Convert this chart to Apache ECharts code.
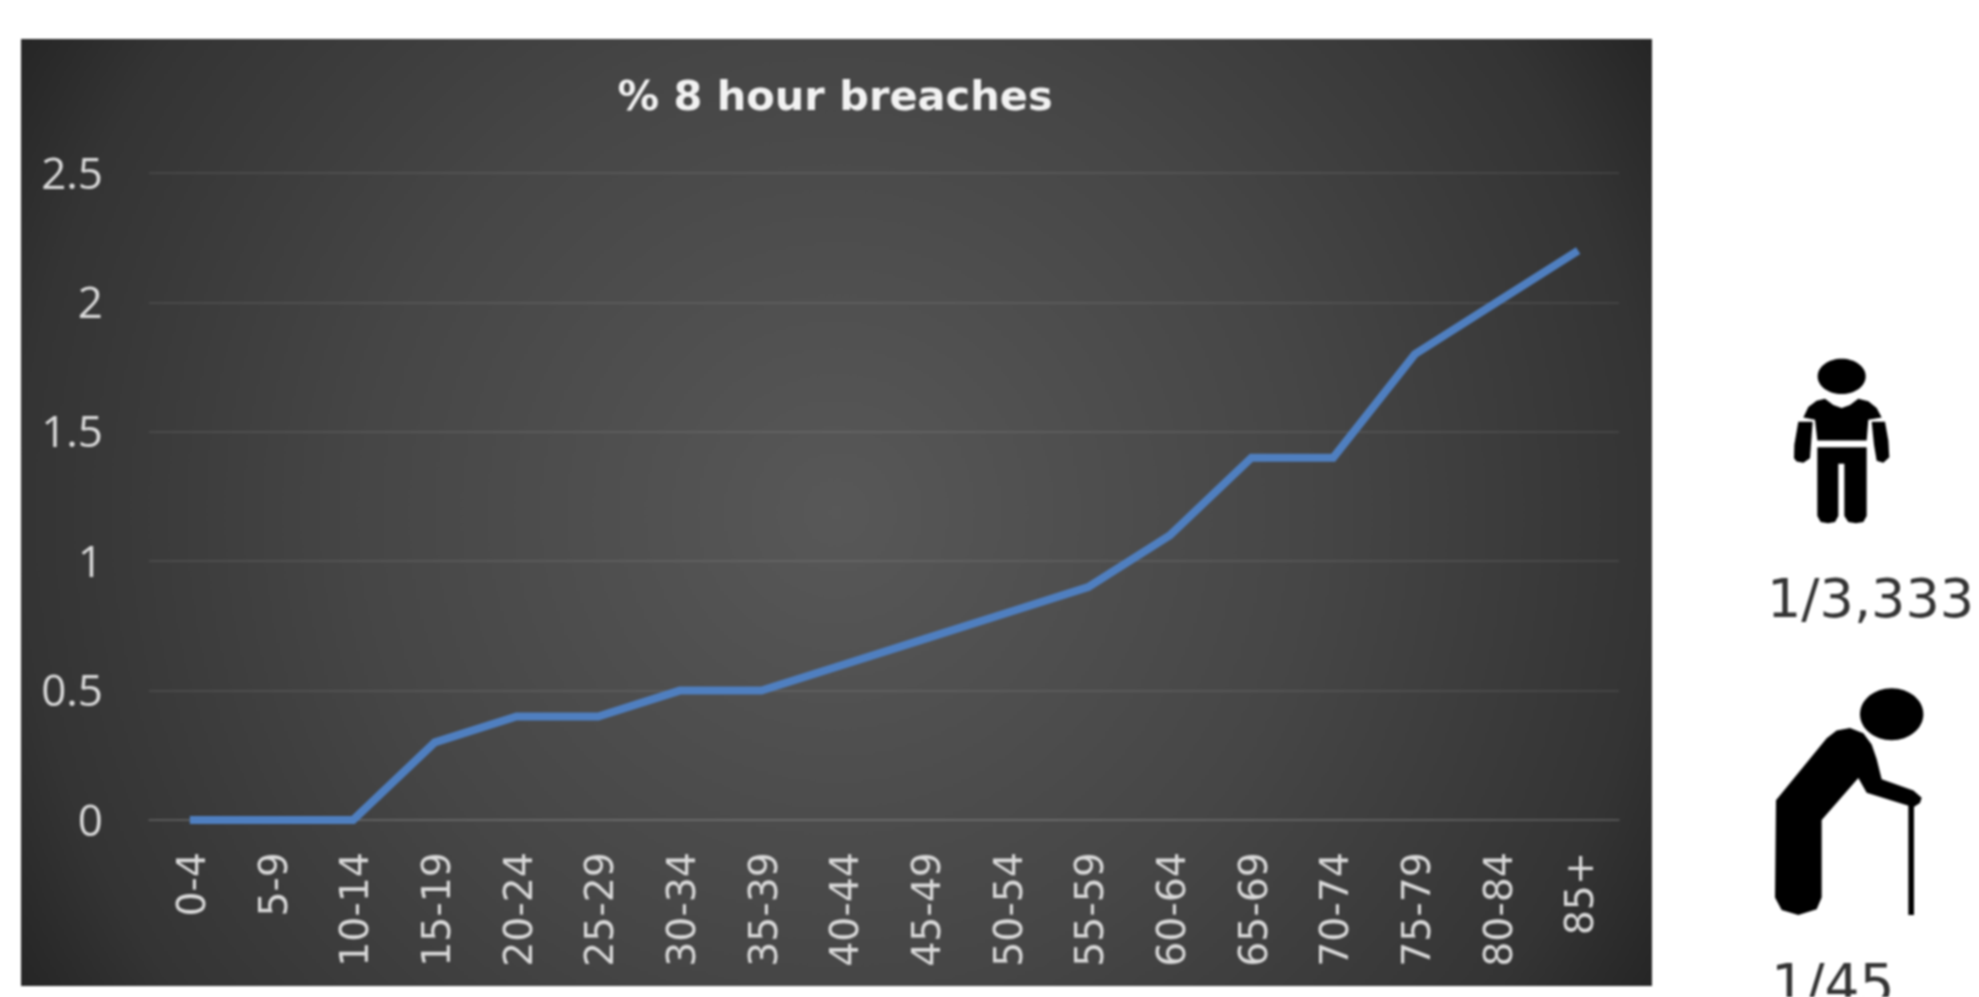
<!DOCTYPE html>
<html>
<head>
<meta charset="utf-8">
<style>html,body{margin:0;padding:0;background:#fff;overflow:hidden}#c{width:1979px;height:997px;filter:blur(0.9px)}</style>
<script src="https://cdn.jsdelivr.net/npm/echarts@6/dist/echarts.min.js"></script>
</head>
<body>
<div id="c"></div>
<script>
const categories = ['0-4','5-9','10-14','15-19','20-24','25-29','30-34','35-39','40-44','45-49','50-54','55-59','60-64','65-69','70-74','75-79','80-84','85+'];
const breaches = [0,0,0,0.3,0.4,0.4,0.5,0.5,0.6,0.7,0.8,0.9,1.1,1.4,1.4,1.8,2.0,2.2];
const titleText = '% 8 hour breaches';
const youngRate = '1/3,333';
const oldRate = '1/45';

const chart = echarts.init(document.getElementById('c'), null, {renderer:'canvas'});
const ICON = {fill:'#000'};
const poly = pts => ({type:'polygon',shape:{points:pts},style:ICON});
chart.setOption({
  animation:false,
  title:{text:titleText,left:830,top:94,textAlign:'center',textVerticalAlign:'middle',
    textStyle:{color:'#f2f2f2',fontFamily:'DejaVu Sans',fontWeight:'bold',fontSize:41.5}},
  grid:{left:149,right:360,top:173,height:647,containLabel:false},
  xAxis:{type:'category',data:categories,boundaryGap:true,
    axisLine:{show:true,lineStyle:{color:'rgba(255,255,255,0.1)',width:2}},axisTick:{show:false},
    axisLabel:{interval:0,rotate:90,margin:32,verticalAlign:'top',lineHeight:10,color:'#d9d9d9',fontFamily:'DejaVu Sans',fontSize:39.5}},
  yAxis:{type:'value',min:0,max:2.5,interval:0.5,
    axisLine:{show:false},axisTick:{show:false},
    splitLine:{lineStyle:{color:'rgba(255,255,255,0.08)',width:2}},
    axisLabel:{margin:46,verticalAlign:'top',lineHeight:6,color:'#d9d9d9',fontFamily:'Open Sans',fontSize:44,
      formatter:v=>String(v)}},
  series:[{type:'line',data:breaches,symbol:'none',smooth:false,z:3,
    lineStyle:{color:'#4f7fc0',width:8,join:'miter',cap:'butt'}}],
  graphic:[
    {type:'rect',z:-10,silent:true,shape:{x:21,y:39,width:1631,height:947},
      style:{fill:{type:'radial',x:0.5,y:0.5,r:1,colorStops:[
        {offset:0,color:'#585858'},{offset:0.5,color:'#464646'},{offset:0.86,color:'#343434'},{offset:1,color:'#252525'}]}}},
    {type:'group',x:1700,y:340,scaleX:1/3,scaleY:1/2.386,silent:true,children:[
      {type:'ellipse',shape:{cx:425,cy:87,rx:72,ry:42},style:ICON},
      poly([[310,185],[325,160],[350,145],[375,140],[400,155],[425,162],[450,155],[475,140],[505,146],[530,162],[545,185],[505,190],[500,240],[352,240],[345,190]]),
      poly([[352,256],[500,256],[500,420],[490,434],[468,437],[445,434],[433,420],[433,295],[415,295],[415,420],[405,434],[384,437],[362,434],[352,420]]),
      poly([[295,195],[338,195],[330,282],[310,293],[290,290],[282,282],[283,250]]),
      poly([[515,195],[555,195],[565,240],[568,280],[550,293],[530,288],[522,250]]),
      {type:'ellipse',shape:{cx:575,cy:893,rx:95,ry:62},style:ICON},
      poly([[228,1098],[380,950],[410,932],[450,926],[490,938],[515,965],[530,1000],[545,1048],[640,1075],[665,1092],[660,1105],[640,1115],[500,1080],[475,1045],[365,1145],[365,1330],[350,1358],[295,1372],[245,1360],[225,1330]]),
      {type:'rect',shape:{x:625,y:1110,width:17,height:262},style:ICON}
    ]},
    {type:'text',x:1767,y:603,style:{text:youngRate,fill:'#333',font:'54px "DejaVu Sans"',textVerticalAlign:'middle'}},
    {type:'text',x:1771,y:989,style:{text:oldRate,fill:'#333',font:'55px "DejaVu Sans"',textVerticalAlign:'middle'}}
  ]
});
</script>
</body>
</html>
